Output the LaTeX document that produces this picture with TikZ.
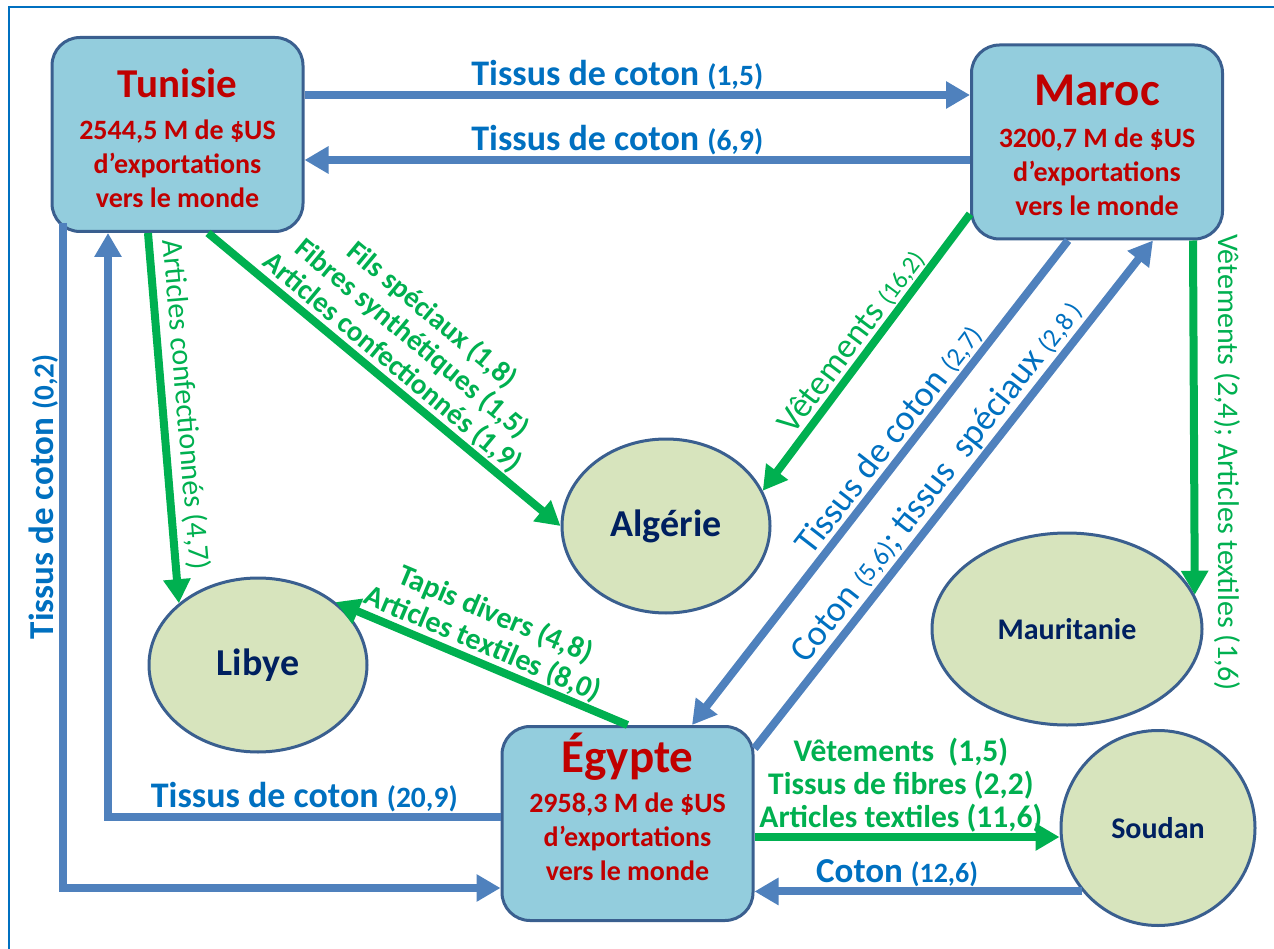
\documentclass[tikz,border=0pt]{standalone}
\usepackage{fontspec}
\setmainfont{Carlito}
\usetikzlibrary{shapes.geometric, arrows.meta, calc}
\definecolor{boxFill}{HTML}{93CDDD}
\definecolor{boxLine}{HTML}{3A5F8F}
\definecolor{ellFill}{HTML}{D7E4BD}
\definecolor{flowBlue}{HTML}{4F81BD}
\definecolor{flowGreen}{HTML}{00B050}
\definecolor{txtBlue}{HTML}{0070C0}
\definecolor{txtRed}{HTML}{C00000}
\definecolor{txtNavy}{HTML}{002060}
\newcommand{\txtsz}[2]{{\fontsize{#1}{#1}\selectfont #2}}

\begin{document}
\begin{tikzpicture}[x=1pt, y=1pt,
    pays/.style={draw=boxLine, line width=3pt, fill=boxFill, rounded corners=28pt, minimum width=251pt, minimum height=194pt, align=center, text=txtRed, font=\bfseries\fontsize{28}{34}\selectfont, inner sep=0pt},
    voisin/.style={ellipse, draw=boxLine, line width=3pt, fill=ellFill, text=txtNavy, inner sep=0pt},
    fl_bleu/.style={draw=flowBlue, line width=8pt, -{Triangle[length=24pt,width=26pt]}},
    fl_vert/.style={draw=flowGreen, line width=8pt, -{Triangle[length=24pt,width=26pt]}},
    lbl/.style={inner sep=0pt, outer sep=5pt, align=center},
    lbl_bleu/.style={lbl, text=txtBlue},
    lbl_vert/.style={lbl, text=flowGreen}
]
\useasboundingbox (0,0) rectangle (1274,-949);
\draw[txtBlue, line width=2pt] (1274,-7) -- (9,-7) -- (9,-949);

% pays exportateurs
\node[pays] (tun) at (177.5,-134.5) {\mbox{}\\[2pt]\txtsz{41}{Tunisie}\\[8pt]2544,5 M de \$US\\d’exportations\\vers le monde};
\node[pays] (mar) at (1097,-142) {\mbox{}\\[4pt]\txtsz{47}{Maroc}\\[8pt]3200,7 M de \$US\\d’exportations\\vers le monde};
\node[pays] (egy) at (627.5,-823.5) {\txtsz{47}{Égypte}\\[6pt]2958,3 M de \$US\\d’exportations\\vers le monde\\[-1pt]\mbox{}};

% pays destinataires
\node[voisin, minimum width=218pt, minimum height=174pt, font=\bfseries\fontsize{38}{38}\selectfont] (lib) at (258,-665) {Libye};
\node[voisin, minimum width=208pt, minimum height=174pt, font=\bfseries\fontsize{38}{38}\selectfont] (alg) at (666,-526) {Algérie};
\node[voisin, minimum width=270pt, minimum height=192pt, font=\bfseries\fontsize{30}{30}\selectfont] (mau) at (1067,-629) {Mauritanie};
\node[voisin, minimum width=194pt, minimum height=195pt, font=\bfseries\fontsize{30}{30}\selectfont] (sou) at (1158,-828) {Soudan};

% points de depart
\coordinate (a1) at ([yshift=39.5pt]tun.east);
\coordinate (a2) at ([yshift=-18pt]mar.west);
\coordinate (a3) at ([xshift=-114.5pt, yshift=10pt]tun.south);
\coordinate (e3) at ([yshift=-64.5pt]egy.west);
\coordinate (e4) at ([yshift=6.5pt]egy.west);
\coordinate (t4) at ([xshift=-69.5pt]tun.south);
\coordinate (m5) at ([xshift=-29pt]mar.south);
\coordinate (e5) at ([xshift=64.5pt]egy.north);
\coordinate (e6) at ([yshift=75pt]egy.east);
\coordinate (m6) at ([xshift=56pt]mar.south);
\coordinate (g1) at ([xshift=-29.5pt]tun.south);
\coordinate (g2) at ([xshift=30.5pt]tun.south);
\coordinate (g3) at ([yshift=-72pt]mar.west);
\coordinate (g4) at ([xshift=96pt]mar.south);
\coordinate (g6) at ([yshift=-13.5pt]egy.east);

% flux bleus
\draw[fl_bleu] (a1) -- (a1 -| mar.west) node[lbl_bleu, pos=0.47, above, font=\bfseries\fontsize{36}{36}\selectfont] {Tissus de coton \txtsz{29.5}{(1,5)}};
\draw[fl_bleu] (a2) -- (a2 -| tun.east) node[lbl_bleu, pos=0.53, above, font=\bfseries\fontsize{36}{36}\selectfont] {Tissus de coton \txtsz{29.5}{(6,9)}};
\draw[fl_bleu] (a3) |- (e3) node[lbl_bleu, pos=0.206, rotate=90, anchor=south, font=\bfseries\fontsize{35}{35}\selectfont] {Tissus de coton \txtsz{29}{(0,2)}};
\draw[fl_bleu] (e4) -| (t4) node[lbl_bleu, pos=0.25, above, font=\bfseries\fontsize{36}{36}\selectfont] {Tissus de coton \txtsz{29.5}{(20,9)}};
\draw[fl_bleu] (m5) -- (e5) node[lbl_bleu, pos=0.435, sloped, above, font=\fontsize{36}{36}\selectfont] {Tissus de coton \txtsz{26}{(2,7)}};
\draw[fl_bleu] (e6) -- (m6) node[lbl_bleu, pos=0.5, sloped, above, font=\fontsize{36}{36}\selectfont] {Coton \txtsz{26}{(5,6)}; tissus\ \ spéciaux \txtsz{26}{(2,8 )}};
\draw[fl_bleu] (sou.220) -- (sou.220 -| egy.east) node[lbl_bleu, pos=0.565, above, font=\bfseries\fontsize{35}{35}\selectfont] {Coton \txtsz{28}{(12,6)}};

% flux verts
\draw[fl_vert] (g1) -- (lib.142) node[lbl_vert, pos=0.47, sloped, above, outer sep=10pt, font=\fontsize{30}{30}\selectfont] {Articles confectionnés (4,7)};
\draw[fl_vert] (g2) -- (alg.west) node[lbl_vert, pos=0.49, sloped, above, font=\bfseries\fontsize{29}{31}\selectfont] {Fils spéciaux (1,8)\\Fibres synthétiques (1,5)\\Articles confectionnés (1,9)};
\draw[fl_vert] (g3) -- (alg.20) node[lbl_vert, pos=0.5, sloped, above, font=\fontsize{35}{35}\selectfont] {Vêtements \txtsz{25}{(16,2)}};
\draw[fl_vert] (g4) -- (mau.15) node[lbl_vert, pos=0.627, rotate=-90, anchor=south, outer sep=20pt, font=\fontsize{30}{30}\selectfont] {Vêtements (2,4); Articles textiles (1,6)};
\draw[fl_vert] (egy.north) -- (lib.39) node[lbl_vert, pos=0.52, sloped, above, font=\bfseries\fontsize{30}{32}\selectfont] {Tapis divers (4,8)\\Articles textiles (8,0)};
\draw[fl_vert] (g6) -- (g6 -| sou.west) node[lbl_vert, pos=0.48, above, font=\bfseries\fontsize{31.5}{33}\selectfont] {Vêtements\ \ (1,5)\\Tissus de fibres (2,2)\\Articles textiles (11,6)};
\end{tikzpicture}
\end{document}
